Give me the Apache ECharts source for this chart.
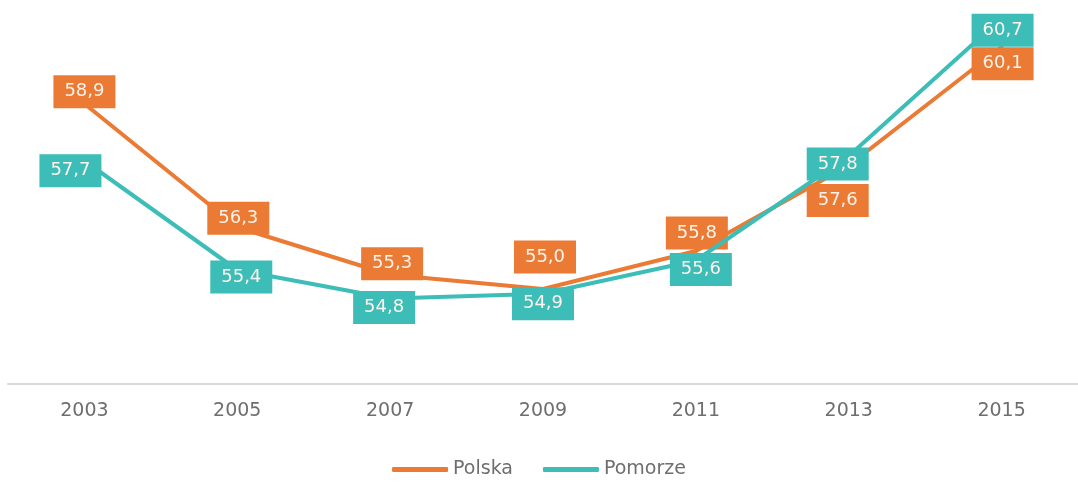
<!DOCTYPE html>
<html>
<head>
<meta charset="utf-8">
<script src="https://cdn.jsdelivr.net/npm/echarts@6/dist/echarts.min.js"></script>
<style>
  html, body { margin: 0; padding: 0; background: #fff; }
  #main { width: 1078px; height: 483px; }
</style>
</head>
<body>
<div id="main"></div>
<script>
// dane
var years = ['2003', '2005', '2007', '2009', '2011', '2013', '2015'];
var polska = [58.9, 56.3, 55.3, 55.0, 55.8, 57.6, 60.1];
var pomorze = [57.7, 55.4, 54.8, 54.9, 55.6, 57.8, 60.7];

// przesuniecia etykiet (px)
var polskaOffsets = [[0, -12], [1, -9], [2, -11], [2, -32], [1, -18], [-11, 35], [1, 17]];
var pomorzeOffsets = [[-14, 10], [4, 7], [-6, 9], [0, 10], [5, 9], [-11, 8], [1, 12]];

var orange = '#EB7B34';
var teal = '#3DBDB8';

function withLabels(values, offsets) {
    var out = [];
    for (var i = 0; i < values.length; i++) {
        out.push({
            value: values[i],
            label: { offset: offsets[i] }
        });
    }
    return out;
}

function labelStyle(color) {
    return {
        show: true,
        position: 'inside',
        color: '#fdf3ea',
        fontFamily: 'DejaVu Sans',
        fontSize: 18,
        backgroundColor: color,
        padding: [8, 0, 7, 0],
        width: 62,
        align: 'center',
        formatter: function (p) { return p.value.toFixed(1).replace('.', ','); }
    };
}

var myChart = echarts.init(document.getElementById('main'));
myChart.setOption({
    animation: false,
    grid: { left: 8, width: 1081, top: 4, bottom: 99 },
    legend: {
        top: 455,
        left: 'center',
        itemWidth: 56,
        itemHeight: 5,
        itemGap: 30,
        icon: 'roundRect',
        textStyle: { color: '#6e6e6e', fontSize: 19, fontFamily: 'DejaVu Sans' },
        data: ['Polska', 'Pomorze']
    },
    xAxis: {
        type: 'category',
        data: years,
        boundaryGap: true,
        axisLine: { lineStyle: { color: '#d9d9d9', width: 2 } },
        axisTick: { show: false },
        axisLabel: { color: '#6e6e6e', fontSize: 19, fontFamily: 'DejaVu Sans', margin: 18 }
    },
    yAxis: {
        type: 'value',
        min: 53,
        max: 61,
        show: false,
        splitLine: { show: false }
    },
    series: [
        {
            name: 'Polska',
            type: 'line',
            data: withLabels(polska, polskaOffsets),
            symbol: 'circle',
            symbolSize: 4,
            lineStyle: { color: orange, width: 4 },
            itemStyle: { color: orange },
            label: labelStyle(orange),
            z: 2
        },
        {
            name: 'Pomorze',
            type: 'line',
            data: withLabels(pomorze, pomorzeOffsets),
            symbol: 'circle',
            symbolSize: 4,
            lineStyle: { color: teal, width: 4 },
            itemStyle: { color: teal },
            label: labelStyle(teal),
            z: 3
        }
    ]
});
</script>
</body>
</html>
